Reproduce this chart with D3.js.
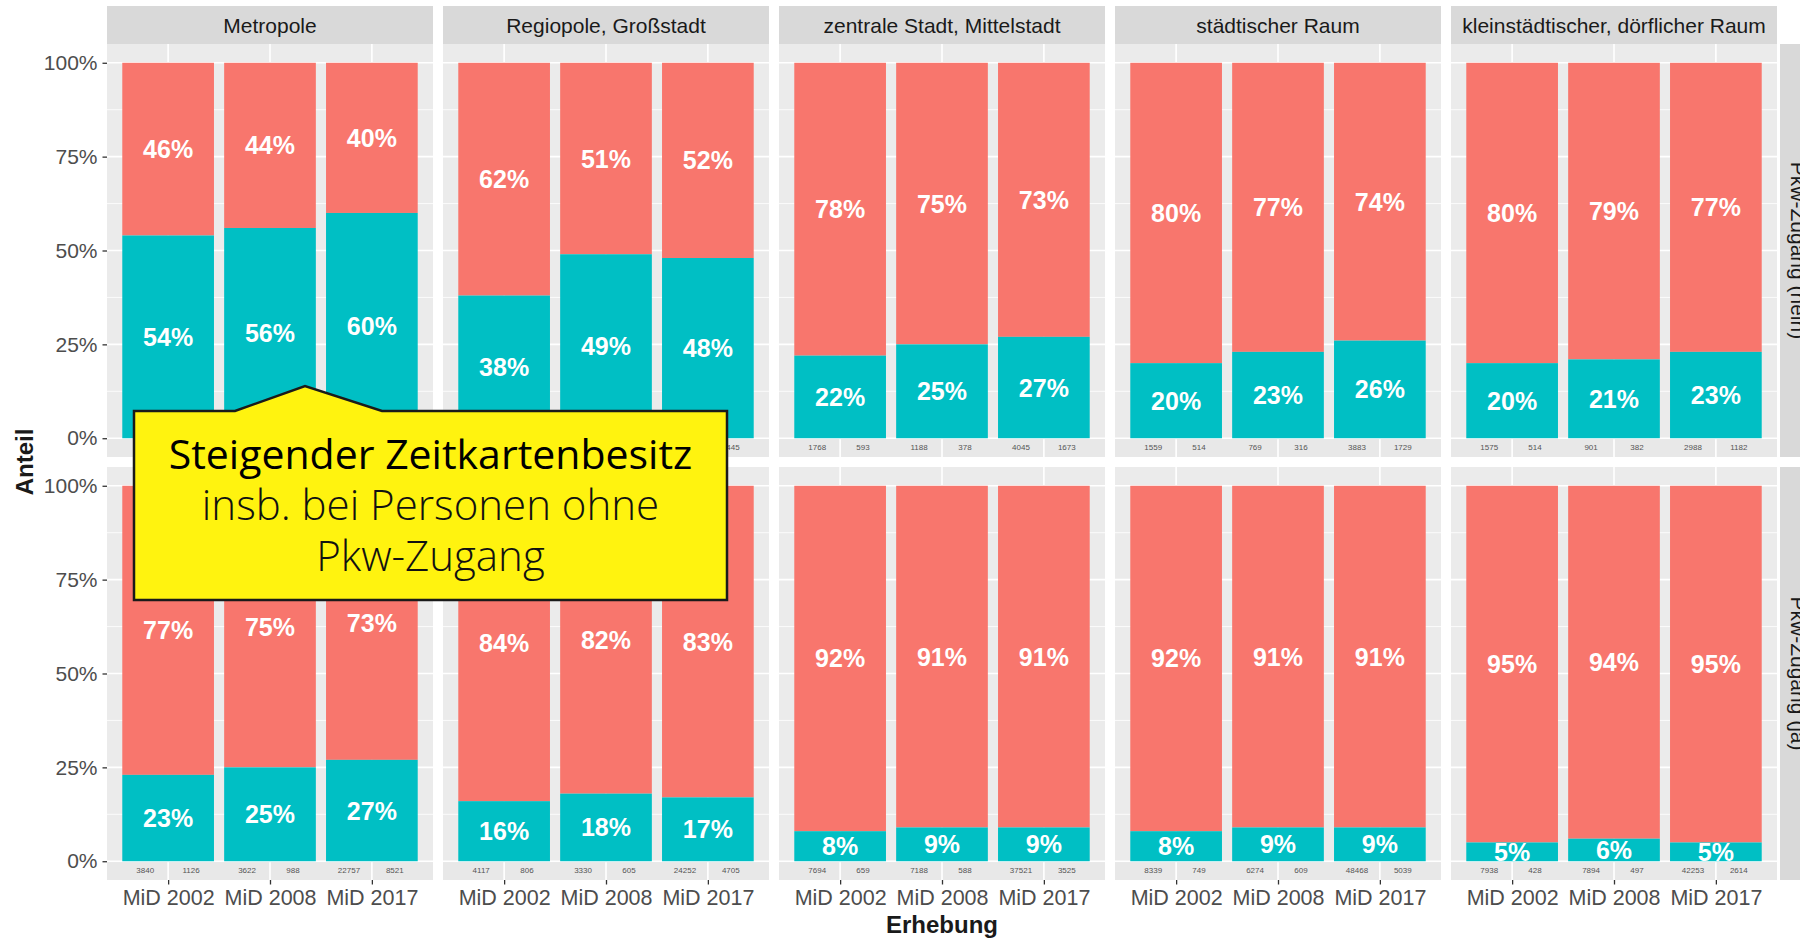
<!DOCTYPE html>
<html>
<head>
<meta charset="utf-8">
<script src="https://cdn.jsdelivr.net/npm/d3@7.9.0/dist/d3.min.js"></script>
<style>
  html, body { margin: 0; padding: 0; background: #fff; }
  svg { display: block; }
  text { font-family: "Liberation Sans", Arial, sans-serif; }
</style>
</head>
<body>
<svg id="chart" width="1800" height="940"></svg>
<script>
// ---- data ----
const regions = ['Metropole', 'Regiopole, Großstadt', 'zentrale Stadt, Mittelstadt',
  'städtischer Raum', 'kleinstädtischer, dörflicher Raum'];
const surveys = ['MiD 2002', 'MiD 2008', 'MiD 2017'];
const carAccess = ['Pkw-Zugang (nein)', 'Pkw-Zugang (ja)'];

// share with time card (teal, lower segment), in %, per region x survey
const timeCardNein = [[54, 56, 60], [38, 49, 48], [22, 25, 27], [20, 23, 26], [20, 21, 23]];
const timeCardJa = [[23, 25, 27], [16, 18, 17], [8, 9, 9], [8, 9, 9], [5, 6, 5]];

// case counts under the bars [without, with]; null = hidden behind the callout
const countsNein = [
  [[null, null], [null, null], [null, null]],
  [[null, null], [null, null], [null, 4445]],
  [[1768, 593], [1188, 378], [4045, 1673]],
  [[1559, 514], [769, 316], [3883, 1729]],
  [[1575, 514], [901, 382], [2988, 1182]]
];
const countsJa = [
  [[3840, 1126], [3622, 988], [22757, 8521]],
  [[4117, 806], [3330, 605], [24252, 4705]],
  [[7694, 659], [7188, 588], [37521, 3525]],
  [[8339, 749], [6274, 609], [48468, 5039]],
  [[7938, 428], [7894, 497], [42253, 2614]]
];

const yTicks = [0, 0.25, 0.5, 0.75, 1];
const yMinor = [0.125, 0.375, 0.625, 0.875];

const calloutLines = ['Steigender Zeitkartenbesitz', 'insb. bei Personen ohne', 'Pkw-Zugang'];

// ---- layout ----
const colRed = '#F8766D', colTeal = '#00BFC4';
const panelLeft = 107, panelW = 326, panelGap = 10;
const stripTop = 6, stripH = 38;
const rowTop = [44, 467], panelH = 413;

const svg = d3.select('#chart');
const fmtPct = d3.format('.0%');

const rows = [
  { key: carAccess[0], share: timeCardNein, counts: countsNein },
  { key: carAccess[1], share: timeCardJa, counts: countsJa }
];

rows.forEach((row, r) => {
  const top = rowTop[r];
  const y = d3.scaleLinear().domain([-0.05, 1.05]).range([top + panelH, top]);

  regions.forEach((region, c) => {
    const left = panelLeft + c * (panelW + panelGap);
    const x = d3.scalePoint().domain(surveys).range([left, left + panelW]).padding(0.6);
    const bw = x.step() * 0.9;
    const g = svg.append('g');

    // panel background + grid
    g.append('rect').attr('x', left).attr('y', top).attr('width', panelW).attr('height', panelH)
      .attr('fill', '#EBEBEB');
    g.selectAll('.minor').data(yMinor).join('line')
      .attr('x1', left).attr('x2', left + panelW)
      .attr('y1', d => y(d)).attr('y2', d => y(d))
      .attr('stroke', '#fff').attr('stroke-width', 0.8);
    g.selectAll('.major').data(yTicks).join('line')
      .attr('x1', left).attr('x2', left + panelW)
      .attr('y1', d => y(d)).attr('y2', d => y(d))
      .attr('stroke', '#fff').attr('stroke-width', 1.6);
    g.selectAll('.vmajor').data(surveys).join('line')
      .attr('x1', d => x(d)).attr('x2', d => x(d))
      .attr('y1', top).attr('y2', top + panelH)
      .attr('stroke', '#fff').attr('stroke-width', 1.6);

    const bars = surveys.map((s, i) => ({ s, teal: row.share[c][i] / 100, counts: row.counts[c][i] }));

    // stacked bars: red on top, teal below
    g.selectAll('.red').data(bars).join('rect')
      .attr('x', d => x(d.s) - bw / 2).attr('width', bw)
      .attr('y', y(1)).attr('height', d => y(d.teal) - y(1))
      .attr('fill', colRed);
    g.selectAll('.teal').data(bars).join('rect')
      .attr('x', d => x(d.s) - bw / 2).attr('width', bw)
      .attr('y', d => y(d.teal)).attr('height', d => y(0) - y(d.teal))
      .attr('fill', colTeal);

    // percentage labels in the middle of each segment
    const lbl = (sel) => sel.attr('text-anchor', 'middle').attr('dominant-baseline', 'central')
      .attr('fill', '#fff').attr('font-weight', 'bold').attr('font-size', 25);
    g.selectAll('.lr').data(bars).join('text').call(lbl)
      .attr('x', d => x(d.s)).attr('y', d => y((1 + d.teal) / 2))
      .text(d => fmtPct(1 - d.teal));
    g.selectAll('.lt').data(bars).join('text').call(lbl)
      .attr('x', d => x(d.s)).attr('y', d => y(d.teal / 2))
      .text(d => fmtPct(d.teal));

    // count table row below 0%
    g.append('rect').attr('x', left).attr('y', y(0) + 1).attr('width', panelW)
      .attr('height', top + panelH - y(0) - 1).attr('fill', '#E8E8E8');
    g.selectAll('.vcell').data(surveys).join('line')
      .attr('x1', d => x(d)).attr('x2', d => x(d))
      .attr('y1', y(0) + 1).attr('y2', top + panelH)
      .attr('stroke', '#fff').attr('stroke-width', 1.6);
    const cnt = [];
    bars.forEach(d => d.counts.forEach((n, k) => {
      if (n !== null) cnt.push({ s: d.s, k, n });
    }));
    g.selectAll('.cnt').data(cnt).join('text')
      .attr('x', d => x(d.s) + (d.k === 0 ? -0.225 : 0.225) * x.step())
      .attr('y', (y(0) + top + panelH) / 2)
      .attr('text-anchor', 'middle').attr('dominant-baseline', 'central')
      .attr('font-size', 8).attr('fill', '#555')
      .text(d => d.n);

    // strip on top
    if (r === 0) {
      svg.append('rect').attr('x', left).attr('y', stripTop).attr('width', panelW).attr('height', stripH)
        .attr('fill', '#D9D9D9');
      svg.append('text').attr('x', left + panelW / 2).attr('y', stripTop + stripH / 2)
        .attr('text-anchor', 'middle').attr('dominant-baseline', 'central')
        .attr('font-size', 21).attr('fill', '#1A1A1A').text(region);
    }

    // x axis on the bottom row
    if (r === 1) {
      const ax = svg.append('g').attr('transform', `translate(0,${top + panelH})`)
        .call(d3.axisBottom(x).tickSize(4.5).tickPadding(5));
      ax.select('.domain').remove();
      ax.selectAll('.tick line').attr('stroke', '#333').attr('stroke-width', 1.3);
      ax.selectAll('.tick text').attr('font-size', 21.5).attr('fill', '#4D4D4D')
        .attr('font-family', '"Liberation Sans", Arial, sans-serif');
    }
  });

  // y axis
  const ay = svg.append('g').attr('transform', `translate(${panelLeft},0)`)
    .call(d3.axisLeft(y).tickValues(yTicks).tickFormat(fmtPct).tickSize(4.5).tickPadding(5));
  ay.select('.domain').remove();
  ay.selectAll('.tick line').attr('stroke', '#333').attr('stroke-width', 1.3);
  ay.selectAll('.tick text').attr('font-size', 21).attr('fill', '#4D4D4D')
    .attr('font-family', '"Liberation Sans", Arial, sans-serif');

  // right strip (cut by the picture edge, as in the original)
  const sx = panelLeft + regions.length * (panelW + panelGap) - panelGap + 3;
  svg.append('rect').attr('x', sx).attr('y', top).attr('width', stripH).attr('height', panelH)
    .attr('fill', '#D9D9D9');
  svg.append('text').attr('transform', `translate(${sx + 11},${top + panelH / 2}) rotate(90)`)
    .attr('text-anchor', 'middle').attr('font-size', 21).attr('fill', '#1A1A1A')
    .text(row.key);
});

// axis titles
svg.append('text').attr('x', panelLeft + (regions.length * (panelW + panelGap) - panelGap) / 2).attr('y', 933)
  .attr('text-anchor', 'middle').attr('font-size', 24).attr('font-weight', 'bold')
  .attr('fill', '#1A1A1A').text('Erhebung');
svg.append('text').attr('transform', `translate(33,${(rowTop[0] + rowTop[1] + panelH) / 2}) rotate(-90)`)
  .attr('text-anchor', 'middle').attr('font-size', 24).attr('font-weight', 'bold')
  .attr('fill', '#1A1A1A').text('Anteil');

// callout box
const co = svg.append('g');
co.append('path')
  .attr('d', 'M134,411 L235,411 L305,386 L382,411 L727,411 L727,600 L134,600 Z')
  .attr('fill', '#FFF30F').attr('stroke', '#1A1A1A').attr('stroke-width', 2.5)
  .attr('stroke-linejoin', 'miter');
co.selectAll('text').data(calloutLines).join('text')
  .attr('x', 430.5).attr('y', (d, i) => 452.5 + i * 51)
  .attr('text-anchor', 'middle').attr('dominant-baseline', 'central')
  .style('font-family', '"Open Sans", "Noto Sans", sans-serif')
  .attr('font-size', (d, i) => i === 0 ? 41 : 42)
  .attr('font-weight', (d, i) => i === 0 ? 400 : 300)
  .attr('fill', (d, i) => i === 0 ? '#000' : '#111')
  .text(d => d);
</script>
</body>
</html>
